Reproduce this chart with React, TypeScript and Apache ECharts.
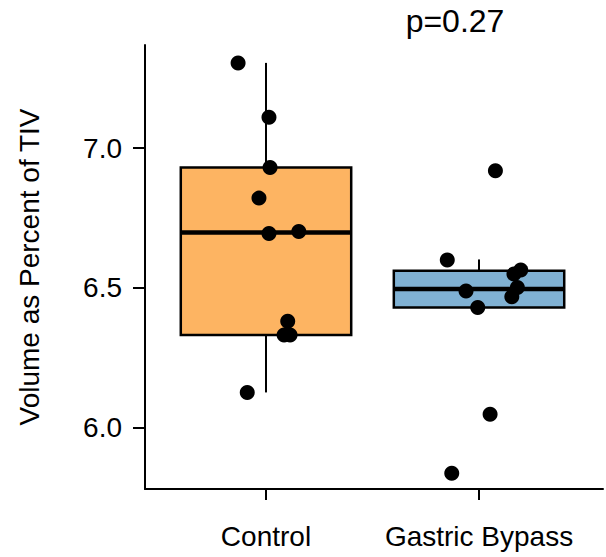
import React, { useEffect, useRef } from "react";
import * as echarts from "echarts";

// ---- data ----
const categories = ["Control", "Gastric Bypass"];
const categoryPos = [1, 2];
const boxColors = ["#FDB462", "#80B1D3"];

// box statistics: [q1, median, q3, lowerWhisker, upperWhisker]
const controlBox = [6.332, 6.698, 6.93, 6.127, 7.304];
const bypassBox = [6.43, 6.496, 6.562, 6.43, 6.602];

// jittered points
const controlX = [0.869, 1.014, 1.019, 0.967, 1.014, 1.154, 1.102, 1.085, 1.113, 0.912];
const controlY = [7.304, 7.11, 6.93, 6.821, 6.695, 6.702, 6.381, 6.332, 6.332, 6.127];
const bypassX = [2.077, 1.851, 2.196, 2.164, 2.18, 2.154, 1.939, 1.994, 2.052, 1.872];
const bypassY = [6.919, 6.6, 6.564, 6.55, 6.502, 6.469, 6.489, 6.43, 6.049, 5.838];

const yTicks = [6.0, 6.5, 7.0];
const pLabel = "p=0.27";
const yName = "Volume as Percent of TIV";

const FONT = "'Liberation Sans', Arial, Helvetica, sans-serif";

export default function App() {
  const ref = useRef<HTMLDivElement>(null);
  useEffect(() => {
    if (!ref.current) return;
    const chart = echarts.init(ref.current, null, { renderer: "svg" });
    const boxes = [controlBox, bypassBox].map((b, i) => [categoryPos[i], ...b]);
    const halfW = 0.4;
    const option: any = {
      animation: false,
      backgroundColor: "#ffffff",
      grid: { left: 145, right: 3, top: 45, bottom: 68, containLabel: false },
      xAxis: {
        type: "value",
        min: 0.432,
        max: 2.582,
        axisLine: { show: true, lineStyle: { color: "#000", width: 2 } },
        axisTick: { show: true, customValues: categoryPos, length: 11, lineStyle: { color: "#000", width: 2 } },
        axisLabel: {
          customValues: categoryPos,
          formatter: (v: number) => categories[categoryPos.indexOf(Math.round(v))] ?? "",
          color: "#000",
          fontSize: 28,
          fontFamily: FONT,
          margin: 33,
        },
        splitLine: { show: false },
      },
      yAxis: {
        type: "value",
        min: 5.7821,
        max: 7.3679,
        axisLine: { show: true, lineStyle: { color: "#000", width: 2 } },
        axisTick: { show: true, customValues: yTicks, length: 12, lineStyle: { color: "#000", width: 2 } },
        axisLabel: {
          customValues: yTicks,
          formatter: (v: number) => v.toFixed(1),
          color: "#000",
          fontSize: 28,
          fontFamily: FONT,
          margin: 23,
        },
        splitLine: { show: false },
      },
      graphic: [
        {
          type: "text",
          x: 455,
          y: 21,
          style: {
            text: pLabel,
            fontSize: 32,
            fontFamily: FONT,
            fill: "#000",
            textAlign: "center",
            textVerticalAlign: "middle",
          },
        },
        {
          type: "text",
          x: 29,
          y: 267,
          rotation: Math.PI / 2,
          style: {
            text: yName,
            fontSize: 28,
            fontFamily: FONT,
            fill: "#000",
            textAlign: "center",
            textVerticalAlign: "middle",
          },
        },
      ],
      series: [
        {
          type: "custom",
          z: 2,
          encode: { x: 0, y: [1, 2, 3, 4, 5] },
          data: boxes,
          renderItem: (params: any, api: any) => {
            const x = api.value(0);
            const q1 = api.value(1);
            const med = api.value(2);
            const q3 = api.value(3);
            const lo = api.value(4);
            const hi = api.value(5);
            const [xl, yq3] = api.coord([x - halfW, q3]);
            const [xr, yq1] = api.coord([x + halfW, q1]);
            const [xc, ymed] = api.coord([x, med]);
            const yhi = api.coord([x, hi])[1];
            const ylo = api.coord([x, lo])[1];
            const color = boxColors[params.dataIndex];
            return {
              type: "group",
              children: [
                { type: "line", shape: { x1: xc, y1: yhi, x2: xc, y2: yq3 }, style: { stroke: "#000", lineWidth: 2 } },
                { type: "line", shape: { x1: xc, y1: yq1, x2: xc, y2: ylo }, style: { stroke: "#000", lineWidth: 2 } },
                {
                  type: "rect",
                  shape: { x: xl, y: yq3, width: xr - xl, height: yq1 - yq3 },
                  style: { fill: color, stroke: "#000", lineWidth: 2.5 },
                },
                { type: "line", shape: { x1: xl, y1: ymed, x2: xr, y2: ymed }, style: { stroke: "#000", lineWidth: 4.5 } },
              ],
            };
          },
        },
        {
          type: "scatter",
          z: 5,
          symbol: "circle",
          symbolSize: 15,
          itemStyle: { color: "#000", opacity: 1 },
          data: controlX.map((x, i) => [x, controlY[i]]),
        },
        {
          type: "scatter",
          z: 5,
          symbol: "circle",
          symbolSize: 15,
          itemStyle: { color: "#000", opacity: 1 },
          data: bypassX.map((x, i) => [x, bypassY[i]]),
        },
      ],
    };
    chart.setOption(option);
    return () => chart.dispose();
  }, []);
  return (
    <div
      ref={ref}
      style={{ position: "fixed", left: 0, top: 0, width: 606, height: 557, background: "#fff" }}
    />
  );
}
